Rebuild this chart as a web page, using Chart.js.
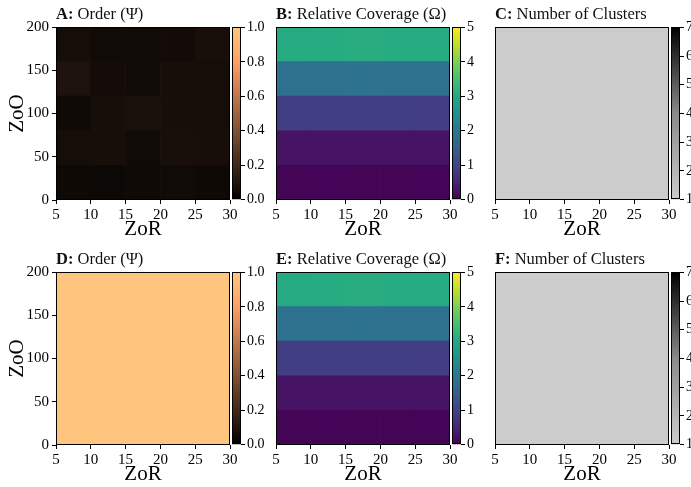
<!DOCTYPE html>
<html>
<head>
    <meta charset="UTF-8">
    <title>Order, coverage and clusters</title>
    <script src="https://cdn.jsdelivr.net/npm/chart.js@4.4.1/dist/chart.umd.min.js"></script>
    <style>
        body { margin: 0; background: #fff; }
        #fig { position: relative; width: 691px; height: 487px; overflow: hidden; background: #fff; }
        #fig canvas { position: absolute; }
    </style>
</head>
<body>
    <div id="fig"></div>

    <script>
        // cell edges of the ZoR / ZoO grid
        const zorEdges = [5, 10, 15, 20, 25, 30];
        const zooEdges = [0, 40, 80, 120, 160, 200];
        const zorTicks = [5, 10, 15, 20, 25, 30];
        const zooTicks = [0, 50, 100, 150, 200];

        // values per row (ZoO bottom -> top), columns ZoR 5-10 ... 25-30
        const orderTop = [
            [0.047, 0.038, 0.050, 0.053, 0.047],
            [0.066, 0.072, 0.053, 0.075, 0.072],
            [0.050, 0.072, 0.081, 0.072, 0.066],
            [0.091, 0.060, 0.053, 0.072, 0.066],
            [0.063, 0.053, 0.053, 0.055, 0.075]
        ];
        const coverageTop = [
            [0.05, 0.04, 0.05, 0.05, 0.04],
            [0.25, 0.25, 0.26, 0.25, 0.25],
            [0.90, 0.90, 0.91, 0.90, 0.89],
            [1.85, 1.86, 1.87, 1.86, 1.85],
            [3.05, 3.08, 3.09, 3.08, 3.07]
        ];
        const clustersTop = [
            [1, 1, 1, 1, 1],
            [1, 1, 1, 1, 1],
            [1, 1, 1, 1, 1],
            [1, 1, 1, 1, 1],
            [1, 1, 1, 1, 1]
        ];
        const orderBottom = [
            [0.99, 0.99, 0.99, 0.99, 0.99],
            [0.99, 0.99, 0.99, 0.99, 0.99],
            [0.99, 0.99, 0.99, 0.99, 0.99],
            [0.99, 0.99, 0.99, 0.99, 0.99],
            [0.99, 0.99, 0.99, 0.99, 0.99]
        ];
        const coverageBottom = [
            [0.05, 0.04, 0.05, 0.05, 0.04],
            [0.25, 0.25, 0.26, 0.25, 0.25],
            [0.90, 0.90, 0.91, 0.90, 0.89],
            [1.85, 1.86, 1.87, 1.86, 1.85],
            [3.05, 3.08, 3.09, 3.08, 3.07]
        ];
        const clustersBottom = [
            [1, 1, 1, 1, 1],
            [1, 1, 1, 1, 1],
            [1, 1, 1, 1, 1],
            [1, 1, 1, 1, 1],
            [1, 1, 1, 1, 1]
        ];

        const orderTicks = [0, 0.2, 0.4, 0.6, 0.8, 1.0];
        const coverageTicks = [0, 1, 2, 3, 4, 5];
        const clusterTicks = [1, 2, 3, 4, 5, 6, 7];

        // colour maps
        function copper(t) {
            t = Math.max(0, Math.min(1, t));
            return 'rgb(' + Math.round(255 * Math.min(1, 1.25 * t)) + ',' +
                Math.round(255 * 0.7812 * t) + ',' + Math.round(255 * 0.4975 * t) + ')';
        }
        function fromStops(stops) {
            const rgb = stops.map(s => [parseInt(s.slice(1, 3), 16), parseInt(s.slice(3, 5), 16), parseInt(s.slice(5, 7), 16)]);
            return function (t) {
                t = Math.max(0, Math.min(1, t)) * (rgb.length - 1);
                const i = Math.min(Math.floor(t), rgb.length - 2);
                const f = t - i;
                const c = [0, 1, 2].map(k => Math.round(rgb[i][k] + (rgb[i + 1][k] - rgb[i][k]) * f));
                return 'rgb(' + c.join(',') + ')';
            };
        }
        const viridis = fromStops(['#440154', '#482475', '#414487', '#355f8d', '#2a788e', '#21918c',
            '#22a884', '#44bf70', '#7ad151', '#bddf26', '#fde725']);
        const greys = fromStops(['#cccccc', '#8a8a8a', '#000000']);

        Chart.defaults.font.family = "'Liberation Serif', 'DejaVu Serif', serif";
        Chart.defaults.color = '#000';

        const W = 174, H = 173;
        const PAD_T = 27, PAD_R = 70, X_AXIS_H = 44, Y_AXIS_W = 56;

        const panels = [
            { letter: 'A:', title: ' Order (\u03A8)', values: orderTop, cmap: copper, vmin: 0, vmax: 1, cbTicks: orderTicks, digits: 1, yAxis: true, x: 56, y: 27 },
            { letter: 'B:', title: ' Relative Coverage (\u03A9)', values: coverageTop, cmap: viridis, vmin: 0, vmax: 5, cbTicks: coverageTicks, digits: 0, yAxis: false, x: 276, y: 27 },
            { letter: 'C:', title: ' Number of Clusters', values: clustersTop, cmap: greys, vmin: 1, vmax: 7, cbTicks: clusterTicks, digits: 0, yAxis: false, x: 495, y: 27 },
            { letter: 'D:', title: ' Order (\u03A8)', values: orderBottom, cmap: copper, vmin: 0, vmax: 1, cbTicks: orderTicks, digits: 1, yAxis: true, x: 56, y: 272 },
            { letter: 'E:', title: ' Relative Coverage (\u03A9)', values: coverageBottom, cmap: viridis, vmin: 0, vmax: 5, cbTicks: coverageTicks, digits: 0, yAxis: false, x: 276, y: 272 },
            { letter: 'F:', title: ' Number of Clusters', values: clustersBottom, cmap: greys, vmin: 1, vmax: 7, cbTicks: clusterTicks, digits: 0, yAxis: false, x: 495, y: 272 }
        ];

        const framePlugin = {
            id: 'frame',
            afterDatasetsDraw(chart) {
                const a = chart.chartArea, ctx = chart.ctx;
                ctx.save();
                ctx.strokeStyle = '#000';
                ctx.lineWidth = 1;
                ctx.strokeRect(Math.round(a.left) + 0.5, Math.round(a.top) + 0.5,
                    Math.round(a.right - a.left) - 1, Math.round(a.bottom - a.top) - 1);
                ctx.restore();
            }
        };

        const titlePlugin = {
            id: 'panelTitle',
            afterDraw(chart, args, opts) {
                const a = chart.chartArea, ctx = chart.ctx;
                const fam = Chart.defaults.font.family;
                ctx.save();
                ctx.fillStyle = '#111';
                ctx.textBaseline = 'alphabetic';
                ctx.font = 'bold 16.5px ' + fam;
                ctx.fillText(opts.letter, a.left, a.top - 8);
                const w = ctx.measureText(opts.letter).width;
                ctx.font = '16.5px ' + fam;
                ctx.fillText(opts.text, a.left + w, a.top - 8);
                ctx.restore();
            }
        };

        const fig = document.getElementById('fig');

        function addCanvas(left, top, width, height) {
            const c = document.createElement('canvas');
            c.width = width;
            c.height = height;
            c.style.left = left + 'px';
            c.style.top = top + 'px';
            c.style.width = width + 'px';
            c.style.height = height + 'px';
            fig.appendChild(c);
            return c;
        }

        function drawHeatmap(p) {
            const padL = p.yAxis ? Y_AXIS_W : 8;
            const canvas = addCanvas(p.x - padL, p.y - PAD_T, padL + W + PAD_R, PAD_T + H + X_AXIS_H);
            const datasets = p.values.map((row, j) => ({
                data: row.map((v, i) => ({
                    x: (zorEdges[i] + zorEdges[i + 1]) / 2,
                    y: [zooEdges[j], zooEdges[j + 1]]
                })),
                backgroundColor: row.map(v => p.cmap((v - p.vmin) / (p.vmax - p.vmin))),
                borderWidth: 0,
                grouped: false,
                categoryPercentage: 1,
                barPercentage: 1
            }));
            new Chart(canvas, {
                type: 'bar',
                data: { datasets: datasets },
                options: {
                    responsive: false,
                    animation: false,
                    layout: { padding: { top: PAD_T, left: p.yAxis ? 0 : padL, right: PAD_R, bottom: 0 } },
                    plugins: {
                        legend: { display: false },
                        tooltip: { enabled: false },
                        panelTitle: { letter: p.letter, text: p.title }
                    },
                    scales: {
                        x: {
                            type: 'linear', min: zorEdges[0], max: zorEdges[zorEdges.length - 1],
                            offset: false,
                            grid: { offset: false, drawOnChartArea: false, tickLength: 4, color: '#000' },
                            border: { display: false },
                            afterBuildTicks: s => { s.ticks = zorTicks.map(v => ({ value: v })); },
                            ticks: { font: { size: 15 }, color: '#000', padding: 2, maxRotation: 0, autoSkip: false },
                            title: { display: true, text: 'ZoR', color: '#000', font: { size: 21, lineHeight: 1 }, padding: { top: 0, bottom: 4 } },
                            afterFit: s => { s.height = X_AXIS_H; }
                        },
                        y: {
                            type: 'linear', display: p.yAxis, min: zooEdges[0], max: zooEdges[zooEdges.length - 1],
                            grid: { drawOnChartArea: false, tickLength: 4, color: '#000' },
                            border: { display: false },
                            afterBuildTicks: s => { s.ticks = zooTicks.map(v => ({ value: v })); },
                            ticks: { font: { size: 15 }, color: '#000', padding: 3, autoSkip: false },
                            title: { display: true, text: 'ZoO', color: '#000', font: { size: 21, lineHeight: 1 }, padding: { top: 7, bottom: 0 } },
                            afterFit: s => { s.width = p.yAxis ? Y_AXIS_W : 0; }
                        }
                    }
                },
                plugins: [framePlugin, titlePlugin]
            });
        }

        function drawColorbar(p) {
            const cbW = 9, labelW = 40, pad = 10;
            const canvas = addCanvas(p.x + W + 2, p.y - pad, cbW + labelW, H + 2 * pad);
            new Chart(canvas, {
                type: 'bar',
                data: {
                    labels: [''],
                    datasets: [{
                        data: [[p.vmin, p.vmax]],
                        borderWidth: 0,
                        categoryPercentage: 1,
                        barPercentage: 1,
                        backgroundColor: ctx => {
                            const a = ctx.chart.chartArea;
                            if (!a) return '#000';
                            const g = ctx.chart.ctx.createLinearGradient(0, a.bottom, 0, a.top);
                            for (let k = 0; k <= 40; k++) g.addColorStop(k / 40, p.cmap(k / 40));
                            return g;
                        }
                    }]
                },
                options: {
                    responsive: false,
                    animation: false,
                    layout: { padding: { top: pad, bottom: pad, left: 0, right: 0 } },
                    plugins: { legend: { display: false }, tooltip: { enabled: false } },
                    scales: {
                        x: { display: false },
                        y: {
                            position: 'right', min: p.vmin, max: p.vmax,
                            grid: { drawOnChartArea: false, tickLength: 4, color: '#000' },
                            border: { display: false },
                            afterBuildTicks: s => { s.ticks = p.cbTicks.map(v => ({ value: v })); },
                            ticks: { font: { size: 14 }, color: '#000', padding: 2, autoSkip: false,
                                callback: v => v.toFixed(p.digits) },
                            afterFit: s => { s.width = labelW; }
                        }
                    }
                },
                plugins: [framePlugin]
            });
        }

        panels.forEach(p => { drawHeatmap(p); drawColorbar(p); });
    </script>
</body>
</html>
